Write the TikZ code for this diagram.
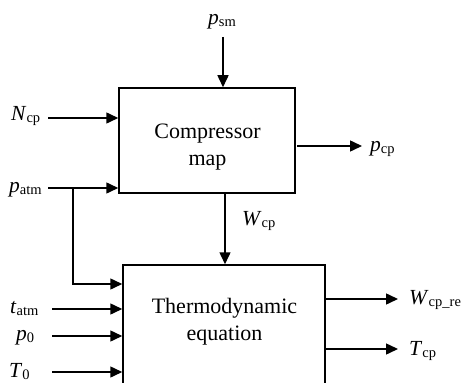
\documentclass[tikz,border=0pt]{standalone}
\usepackage{fontspec}
\setmainfont{Liberation Serif}
\usetikzlibrary{arrows.meta}
\newcommand\lbl[2]{\textit{#1}\raisebox{-2pt}{\fontsize{14.5}{15}\selectfont #2}}
\begin{document}
\begin{tikzpicture}[x=1pt,y=-1pt,
  arr/.style={line width=1.5pt,-{Triangle[length=12pt,width=11pt]}},
  boxed/.style={draw,line width=1.5pt,inner sep=0pt},
  lab/.style={anchor=base west,inner sep=0pt,font=\fontsize{21.5}{23}\selectfont},
  btext/.style={align=center,inner sep=0pt,font=\fontsize{22}{27}\selectfont}]
\clip (0,0) rectangle (462,382);
% boxes
\node[boxed,minimum width=176pt,minimum height=105pt] (top) at (207,140.5) {};
\node[boxed,minimum width=202pt,minimum height=140pt] (bot) at (224,335) {};
\node[btext] (toptxt) at (207.5,147) {Compressor\\map};
\node[btext] (bottxt) at (224.5,322) {Thermodynamic\\equation};
% labels
\node[lab] (psm) at (208,25) {\lbl{p}{sm}};
\node[lab] (ncp) at (11,121) {\lbl{N}{cp}};
\node[lab] (pcp) at (370,151) {\lbl{p}{cp}};
\node[lab] (patm) at (9,192) {\lbl{p}{atm}};
\node[lab] (wcp) at (242,225) {\lbl{W}{cp}};
\node[lab] (tatm) at (10,313) {\lbl{t}{atm}};
\node[lab] (pzero) at (16,340.5) {\lbl{p}{0}};
\node[lab] (tzero) at (9,377.5) {\lbl{T}{0}};
\node[lab] (wcpre) at (409,304) {\lbl{W}{cp\_re}};
\node[lab] (tcp) at (409,355.5) {\lbl{T}{cp}};
% connector start points
\coordinate (a1) at (223,37);
\coordinate (a2) at (48,118);
\coordinate (a3) at (48,188);
\coordinate (jn) at (73,188);
\coordinate (jb) at (73,284);
\coordinate (a4) at (52,309);
\coordinate (a5) at (52,336);
\coordinate (a6) at (52,372);
\coordinate (o1) at (297,146);
\coordinate (o1e) at (362,146);
\coordinate (o2) at (225,193);
\coordinate (o3e) at (398,299);
\coordinate (o4e) at (398,349);
% connectors
\draw[arr] (a1) -- (a1 |- top.north);
\draw[arr] (a2) -- (a2 -| top.west);
\draw[arr] (a3) -- (a3 -| top.west);
\draw[arr] (jn) -- (jb) -- (jb -| bot.west);
\draw[arr] (a4) -- (a4 -| bot.west);
\draw[arr] (a5) -- (a5 -| bot.west);
\draw[arr] (a6) -- (a6 -| bot.west);
\draw[arr] (o1) -- (o1e);
\draw[arr] (o2) -- (o2 |- bot.north);
\draw[arr] (o3e -| bot.east) -- (o3e);
\draw[arr] (o4e -| bot.east) -- (o4e);
\end{tikzpicture}
\end{document}
